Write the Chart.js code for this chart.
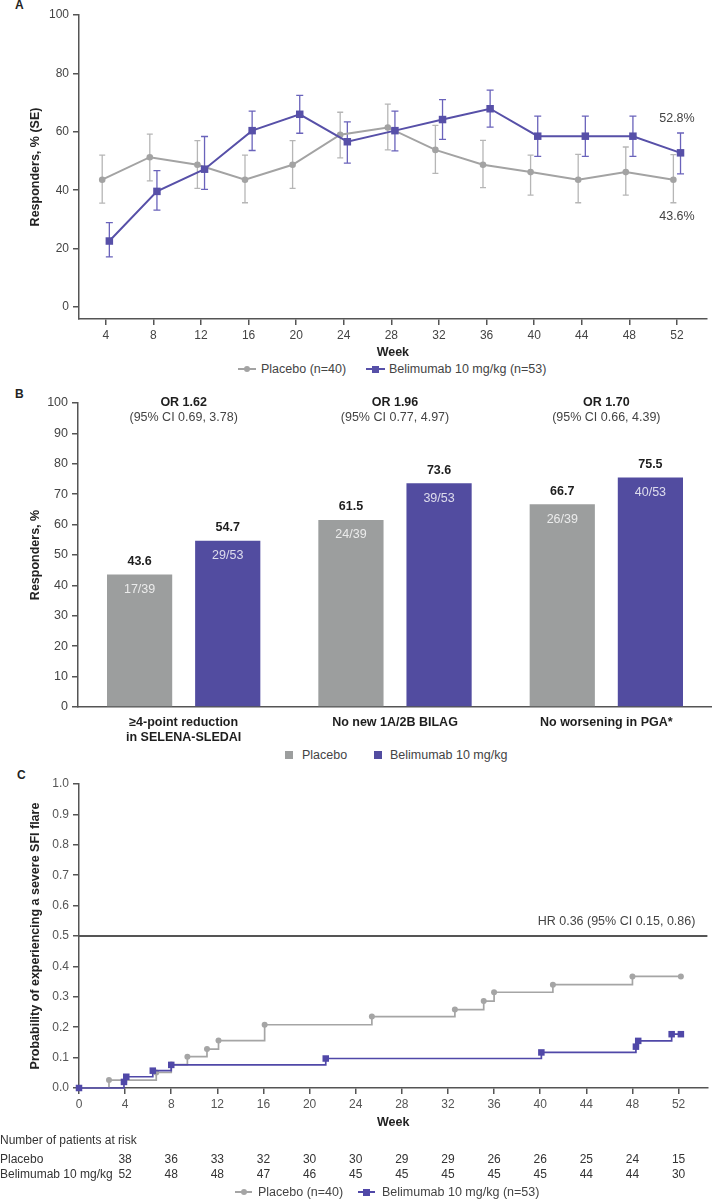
<!DOCTYPE html>
<html>
<head>
<meta charset="utf-8">
<script src="https://cdn.jsdelivr.net/npm/chart.js@4.4.1/dist/chart.umd.min.js"></script>
<style>
  html,body{margin:0;padding:0;background:#fff;}
  body{width:712px;height:1199px;position:relative;overflow:hidden;font-family:"Liberation Sans",Arial,sans-serif;color:#444;}
  .box{position:absolute;left:0;width:712px;}
  .t{position:absolute;white-space:nowrap;font-size:12.5px;line-height:14px;color:#444;}
  .letter{position:absolute;font-weight:bold;font-size:12px;line-height:14px;color:#222;}
  .mk{position:absolute;}
</style>
</head>
<body>

<div class="letter" style="left:15px;top:-2px;">A</div>
<div class="box" style="top:0;height:360px;"><canvas id="cA"></canvas></div>

<!-- legend A -->
<div class="mk" style="left:238px;top:368px;width:18px;height:2px;background:#a3a3a3;"></div>
<div class="mk" style="left:244px;top:366px;width:6px;height:6px;border-radius:50%;background:#a3a3a3;"></div>
<div class="t" style="left:261px;top:362px;">Placebo (n=40)</div>
<div class="mk" style="left:366px;top:368px;width:19px;height:2px;background:#5750a8;"></div>
<div class="mk" style="left:372px;top:365.5px;width:7px;height:7px;background:#5750a8;"></div>
<div class="t" style="left:389px;top:362px;">Belimumab 10 mg/kg (n=53)</div>

<div class="letter" style="left:15px;top:387px;">B</div>
<div class="box" style="top:380px;height:363px;"><canvas id="cB"></canvas></div>

<!-- legend B -->
<div class="mk" style="left:285px;top:751px;width:8px;height:8px;background:#9c9e9e;"></div>
<div class="t" style="left:302px;top:748px;">Placebo</div>
<div class="mk" style="left:374px;top:751px;width:8px;height:8px;background:#524ca0;"></div>
<div class="t" style="left:390px;top:748px;">Belimumab 10 mg/kg</div>

<div class="letter" style="left:17px;top:768px;">C</div>
<div class="box" style="top:765px;height:434px;"><canvas id="cC"></canvas></div>

<!-- legend C -->
<div class="mk" style="left:235px;top:1191px;width:17px;height:2px;background:#a5a5a5;"></div>
<div class="mk" style="left:240.5px;top:1189px;width:6px;height:6px;border-radius:50%;background:#a5a5a5;"></div>
<div class="t" style="left:258px;top:1185px;">Placebo (n=40)</div>
<div class="mk" style="left:358px;top:1191px;width:17px;height:2px;background:#5048a8;"></div>
<div class="mk" style="left:363px;top:1188.5px;width:7px;height:7px;background:#5048a8;"></div>
<div class="t" style="left:382px;top:1185px;">Belimumab 10 mg/kg (n=53)</div>

<script>
// ================= DATA =================
// Panel A: responders over time
const weeksA = [4, 8, 12, 16, 20, 24, 28, 32, 36, 40, 44, 48, 52];
const yTicksA = [0, 20, 40, 60, 80, 100];
const placeboA      = [43.6, 51.3, 48.7, 43.6, 48.7, 59.0, 61.5, 53.8, 48.7, 46.2, 43.6, 46.2, 43.6];
const placeboAUpper = [52.0, 59.2, 57.0, 52.0, 57.0, 66.7, 69.5, 62.2, 57.1, 52.0, 52.3, 54.8, 52.2];
const placeboALower = [35.6, 43.2, 40.6, 35.7, 40.6, 51.1, 53.8, 45.8, 40.9, 38.3, 35.7, 38.3, 35.7];
const belimumabA      = [22.6, 39.6, 47.2, 60.4, 66.0, 56.6, 60.4, 64.2, 67.9, 58.5, 58.5, 58.5, 52.8];
const belimumabAUpper = [28.9, 46.7, 58.4, 67.1, 72.5, 63.4, 67.1, 71.0, 74.3, 65.4, 65.4, 65.4, 59.6];
const belimumabALower = [17.2, 33.2, 40.3, 53.6, 59.5, 49.3, 53.5, 57.4, 61.6, 51.6, 51.6, 51.6, 45.6];

// Panel B: responder bars
const categoriesB = [["≥4-point reduction", "in SELENA-SLEDAI"], "No new 1A/2B BILAG", "No worsening in PGA*"];
const yTicksB = [0, 10, 20, 30, 40, 50, 60, 70, 80, 90, 100];
const placeboB = [43.6, 61.5, 66.7];
const belimumabB = [54.7, 73.6, 75.5];
const placeboFracB = ["17/39", "24/39", "26/39"];
const belimumabFracB = ["29/53", "39/53", "40/53"];
const orB = ["OR 1.62", "OR 1.96", "OR 1.70"];
const ciB = ["(95% CI 0.69, 3.78)", "(95% CI 0.77, 4.97)", "(95% CI 0.66, 4.39)"];

// Panel C: Kaplan-Meier severe flare
const xTicksC = [0, 4, 8, 12, 16, 20, 24, 28, 32, 36, 40, 44, 48, 52];
const yTicksC = [0, 0.1, 0.2, 0.3, 0.4, 0.5, 0.6, 0.7, 0.8, 0.9, 1.0];
const placeboKmWeeks = [0, 2.6, 6.7, 8.0, 9.4, 11.1, 12.1, 16.1, 25.4, 32.6, 35.1, 36.0, 41.1, 48.0, 52.2];
const placeboKmProb  = [0, 0.026, 0.051, 0.077, 0.103, 0.128, 0.156, 0.208, 0.235, 0.258, 0.286, 0.315, 0.340, 0.367, 0.367];
const belimumabKmWeeks = [0, 3.9, 4.1, 6.4, 8.0, 21.4, 40.1, 48.3, 48.5, 51.4, 52.2];
const belimumabKmProb  = [0, 0.020, 0.037, 0.057, 0.076, 0.097, 0.117, 0.136, 0.155, 0.177, 0.177];
const hrText = "HR 0.36 (95% CI 0.15, 0.86)";
const riskWeeks = [4, 8, 12, 16, 20, 24, 28, 32, 36, 40, 44, 48, 52];
const placeboAtRisk   = [38, 36, 33, 32, 30, 30, 29, 29, 26, 26, 25, 24, 15];
const belimumabAtRisk = [52, 48, 48, 47, 46, 45, 45, 45, 45, 45, 44, 44, 30];

// ================= STYLE =================
const FONT = '"Liberation Sans", Arial, sans-serif';
Chart.defaults.font.family = FONT;
Chart.defaults.color = '#444';
const AXIS = '#555';
const GRAY_LINE = '#a3a3a3', PURPLE_LINE = '#5750a8';
const GRAY_BAR = '#9c9e9e', PURPLE_BAR = '#524ca0';
const DODGE = 0.3;

function axisCommon(extra) {
  return Object.assign({
    grid: {display: true, drawOnChartArea: false, drawTicks: true, tickLength: 6, color: AXIS, lineWidth: 1.5},
    border: {display: true, color: AXIS, width: 1.5},
  }, extra);
}

// ================= PLUGINS =================
const errorBars = {
  id: 'errorBars',
  beforeDatasetsDraw(chart) {
    const {ctx, scales: {x, y}} = chart;
    chart.data.datasets.forEach((ds) => {
      if (!ds.errUpper) return;
      ctx.save();
      ctx.strokeStyle = ds.errColor;
      ctx.lineWidth = 1.3;
      ds.data.forEach((p, i) => {
        const px = x.getPixelForValue(p.x);
        const yt = y.getPixelForValue(ds.errUpper[i]);
        const yb = y.getPixelForValue(ds.errLower[i]);
        ctx.beginPath();
        ctx.moveTo(px, yt); ctx.lineTo(px, yb);
        ctx.moveTo(px - ds.capHalf, yt); ctx.lineTo(px + ds.capHalf, yt);
        ctx.moveTo(px - ds.capHalf, yb); ctx.lineTo(px + ds.capHalf, yb);
        ctx.stroke();
      });
      ctx.restore();
    });
  }
};

const labelsA = {
  id: 'labelsA',
  afterDraw(chart) {
    const {ctx, scales: {x, y}} = chart;
    const last = weeksA.length - 1;
    ctx.save();
    ctx.font = '12.5px ' + FONT;
    ctx.fillStyle = '#444';
    ctx.textAlign = 'center';
    ctx.textBaseline = 'middle';
    const px = x.getPixelForValue(weeksA[last]);
    ctx.fillText(belimumabA[last].toFixed(1) + '%', px, y.getPixelForValue(belimumabAUpper[last]) - 14);
    ctx.fillText(placeboA[last].toFixed(1) + '%', px, y.getPixelForValue(placeboALower[last]) + 14);
    ctx.restore();
  }
};

const labelsB = {
  id: 'labelsB',
  afterDatasetsDraw(chart) {
    const {ctx, scales: {x, y}} = chart;
    ctx.save();
    ctx.textAlign = 'center';
    ctx.textBaseline = 'middle';
    chart.data.datasets.forEach((ds, di) => {
      const meta = chart.getDatasetMeta(di);
      meta.data.forEach((bar, i) => {
        ctx.font = 'bold 12.5px ' + FONT;
        ctx.fillStyle = '#1e1e1e';
        ctx.fillText(ds.data[i].toFixed(1), bar.x, bar.y - 13);
        ctx.font = '12.5px ' + FONT;
        ctx.fillStyle = 'rgba(255,255,255,0.8)';
        ctx.fillText(ds.fracs[i], bar.x, bar.y + 15);
      });
    });
    const top = y.getPixelForValue(100);
    orB.forEach((t, i) => {
      const cx = x.getPixelForValue(i);
      ctx.font = 'bold 12.5px ' + FONT;
      ctx.fillStyle = '#1e1e1e';
      ctx.fillText(t, cx, top);
      ctx.font = '12.5px ' + FONT;
      ctx.fillStyle = '#444';
      ctx.fillText(ciB[i], cx, top + 15);
    });
    ctx.restore();
  }
};

const extrasC = {
  id: 'extrasC',
  beforeDatasetsDraw(chart) {
    const {ctx, chartArea, scales: {y}} = chart;
    const yy = y.getPixelForValue(0.5);
    ctx.save();
    ctx.strokeStyle = '#555';
    ctx.lineWidth = 1.8;
    ctx.beginPath();
    ctx.moveTo(chartArea.left, yy);
    ctx.lineTo(chartArea.right, yy);
    ctx.stroke();
    ctx.restore();
  },
  afterDraw(chart) {
    const {ctx, chartArea, scales: {x, y}} = chart;
    ctx.save();
    ctx.font = '12.5px ' + FONT;
    ctx.fillStyle = '#444';
    ctx.textBaseline = 'middle';
    ctx.textAlign = 'right';
    ctx.fillText(hrText, chartArea.right - 12, y.getPixelForValue(0.5) - 14);
    // at-risk table
    const base = x.bottom;
    ctx.font = '12px ' + FONT;
    ctx.fillStyle = '#333';
    ctx.textAlign = 'left';
    ctx.fillText('Number of patients at risk', 0, base + 11);
    ctx.fillText('Placebo', 0, base + 30);
    ctx.fillText('Belimumab 10 mg/kg', 0, base + 45);
    ctx.textAlign = 'center';
    riskWeeks.forEach((w, i) => {
      const px = x.getPixelForValue(w);
      ctx.fillText(String(placeboAtRisk[i]), px, base + 30);
      ctx.fillText(String(belimumabAtRisk[i]), px, base + 45);
    });
    ctx.restore();
  }
};

// ================= CHART A =================
new Chart(document.getElementById('cA'), {
  type: 'line',
  data: {
    datasets: [
      {
        label: 'Placebo (n=40)',
        data: weeksA.map((w, i) => ({x: w - DODGE, y: placeboA[i]})),
        borderColor: GRAY_LINE, backgroundColor: GRAY_LINE,
        pointStyle: 'circle', pointRadius: 3.3, pointBorderWidth: 0,
        borderWidth: 2, order: 2, clip: false,
        errUpper: placeboAUpper, errLower: placeboALower, errColor: '#b6b6b6', capHalf: 3
      },
      {
        label: 'Belimumab 10 mg/kg (n=53)',
        data: weeksA.map((w, i) => ({x: w + DODGE, y: belimumabA[i]})),
        borderColor: PURPLE_LINE, backgroundColor: PURPLE_LINE,
        pointStyle: 'rect', pointRadius: 5.3, pointBorderWidth: 0,
        borderWidth: 2, order: 1, clip: false,
        errUpper: belimumabAUpper, errLower: belimumabALower, errColor: '#6a63bb', capHalf: 3.5
      }
    ]
  },
  options: {
    animation: false, responsive: true, maintainAspectRatio: false,
    layout: {padding: {top: 15, left: 0, right: 0, bottom: 0}},
    plugins: {legend: {display: false}, tooltip: {enabled: false}},
    scales: {
      x: axisCommon({
        type: 'linear', min: 1.75, max: 54.5,
        afterBuildTicks: s => { s.ticks = weeksA.map(v => ({value: v})); },
        afterFit: s => { s.height = 41; },
        ticks: {font: {size: 12}, color: '#444', padding: 3, maxRotation: 0, autoSkip: false},
        title: {display: true, text: 'Week', font: {size: 12.5, weight: 'bold'}, color: '#222', padding: 0}
      }),
      y: axisCommon({
        min: -4.1, max: 100,
        afterBuildTicks: s => { s.ticks = yTicksA.map(v => ({value: v})); },
        afterFit: s => { s.width = 79; },
        ticks: {font: {size: 12}, color: '#444', padding: 4},
        title: {display: true, text: 'Responders, % (SE)', font: {size: 12.5, weight: 'bold'}, color: '#222', padding: {top: 28}}
      })
    }
  },
  plugins: [errorBars, labelsA]
});

// ================= CHART B =================
new Chart(document.getElementById('cB'), {
  type: 'bar',
  data: {
    labels: categoriesB,
    datasets: [
      {label: 'Placebo', data: placeboB, backgroundColor: GRAY_BAR, fracs: placeboFracB,
       categoryPercentage: 0.834, barPercentage: 0.74},
      {label: 'Belimumab 10 mg/kg', data: belimumabB, backgroundColor: PURPLE_BAR, fracs: belimumabFracB,
       categoryPercentage: 0.834, barPercentage: 0.74}
    ]
  },
  options: {
    animation: false, responsive: true, maintainAspectRatio: false,
    layout: {padding: {top: 23, left: 0, right: 0, bottom: 0}},
    plugins: {legend: {display: false}, tooltip: {enabled: false}},
    scales: {
      x: {
        grid: {display: true, drawOnChartArea: false, drawTicks: false, color: AXIS},
        border: {display: true, color: AXIS, width: 1.5},
        afterFit: s => { s.height = 36; },
        ticks: {font: {size: 12.5, weight: 'bold'}, color: '#1e1e1e', padding: 8, maxRotation: 0, autoSkip: false}
      },
      y: axisCommon({
        min: 0, max: 100,
        afterBuildTicks: s => { s.ticks = yTicksB.map(v => ({value: v})); },
        afterFit: s => { s.width = 78; },
        ticks: {font: {size: 12.5}, color: '#444', padding: 4},
        title: {display: true, text: 'Responders, %', font: {size: 12.5, weight: 'bold'}, color: '#222', padding: {top: 28}}
      })
    }
  },
  plugins: [labelsB]
});

// ================= CHART C =================
new Chart(document.getElementById('cC'), {
  type: 'line',
  data: {
    datasets: [
      {
        label: 'Placebo (n=40)',
        data: placeboKmWeeks.map((w, i) => ({x: w, y: placeboKmProb[i]})),
        stepped: true,
        borderColor: '#a5a5a5', backgroundColor: '#a5a5a5',
        pointStyle: 'circle', pointRadius: c => (c.dataIndex === 0 ? 0 : 3), pointBorderWidth: 0,
        borderWidth: 1.7, order: 2, clip: false
      },
      {
        label: 'Belimumab 10 mg/kg (n=53)',
        data: belimumabKmWeeks.map((w, i) => ({x: w, y: belimumabKmProb[i]})),
        stepped: true,
        borderColor: '#5048a8', backgroundColor: '#5048a8',
        pointStyle: 'rect', pointRadius: 4.6, pointBorderWidth: 0,
        borderWidth: 1.7, order: 1, clip: false
      }
    ]
  },
  options: {
    animation: false, responsive: true, maintainAspectRatio: false,
    layout: {padding: {top: 19, left: 0, right: 0, bottom: 69}},
    plugins: {legend: {display: false}, tooltip: {enabled: false}},
    scales: {
      x: axisCommon({
        type: 'linear', min: 0, max: 54.5,
        afterBuildTicks: s => { s.ticks = xTicksC.map(v => ({value: v})); },
        afterFit: s => { s.height = 42; },
        ticks: {font: {size: 12}, color: '#555', padding: 3, maxRotation: 0, autoSkip: false},
        title: {display: true, text: 'Week', font: {size: 12.5, weight: 'bold'}, color: '#222', padding: 0}
      }),
      y: axisCommon({
        min: 0, max: 1,
        afterBuildTicks: s => { s.ticks = yTicksC.map(v => ({value: v})); },
        afterFit: s => { s.width = 79; },
        ticks: {font: {size: 12}, color: '#555', padding: 4, callback: v => Number(v).toFixed(1)},
        title: {display: true, text: 'Probability of experiencing a severe SFI flare', font: {size: 12.5, weight: 'bold'}, color: '#222', padding: {top: 28}}
      })
    }
  },
  plugins: [extrasC]
});
</script>
</body>
</html>
